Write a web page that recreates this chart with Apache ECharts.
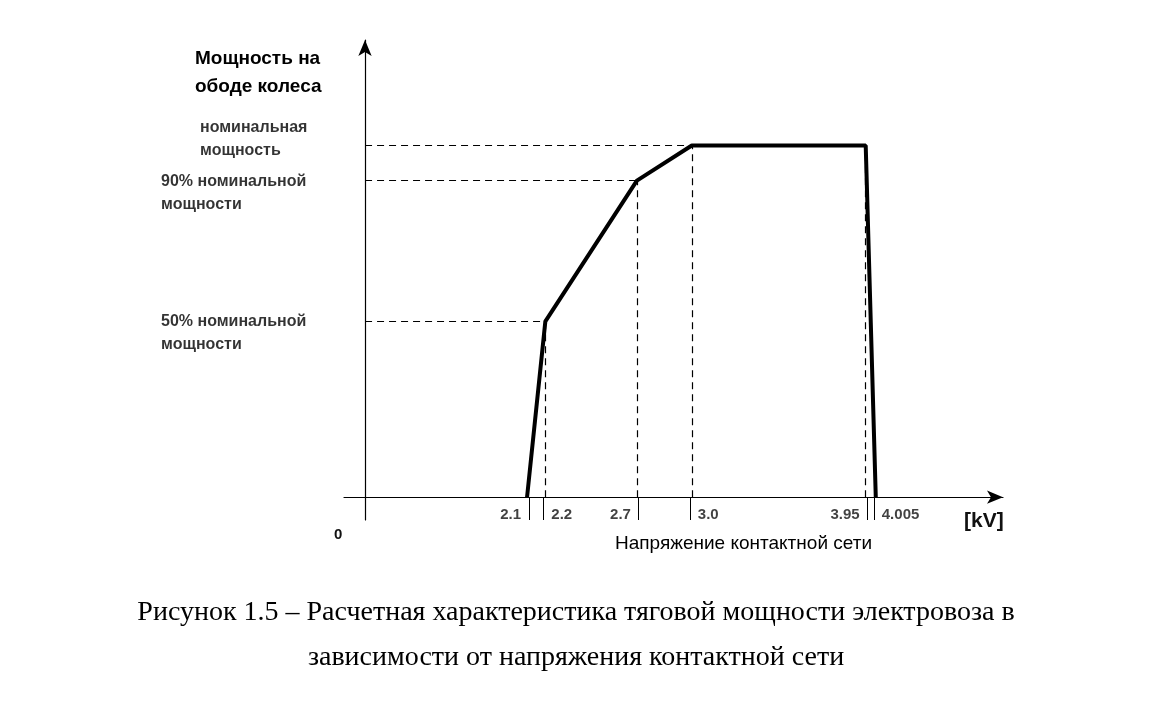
<!DOCTYPE html>
<html><head><meta charset="utf-8">
<script src="https://cdn.jsdelivr.net/npm/echarts@6/dist/echarts.min.js"></script>
<style>html,body{margin:0;background:#fff}#c{width:1153px;height:719px}</style></head>
<body><div id="c"></div>
<script>
const voltage = [2.1, 2.2, 2.7, 3.0, 3.95, 4.005];
const power = [0, 0.5, 0.9, 1.0, 1.0, 0];
const tickLabels = ['2.1', '2.2', '2.7', '3.0', '3.95', '4.005'];
const tickSide = ['left', 'right', 'left', 'right', 'left', 'right'];
const yLevels = [1.0, 0.9, 0.5];
const yLabels = ['номинальная\nмощность', '90% номинальной\nмощности', '50% номинальной\nмощности'];
const yAxisX = 1.215;

const chart = echarts.init(document.getElementById('c'));
const dashed = {color: '#000', type: [7, 5], width: 1.2};
const mlData = [];
yLevels.forEach((v, i) => {
  const idx = power.indexOf(v);
  mlData.push([{coord: [yAxisX, v], lineStyle: dashed}, {coord: [voltage[idx], v]}]);
});
mlData.push([{coord: [3.0, 1.0], lineStyle: dashed}, {coord: [3.95, 1.0]}]);
[1, 2, 3, 4].forEach(i => {
  mlData.push([{coord: [voltage[i], 0], lineStyle: dashed}, {coord: [voltage[i], power[i]]}]);
});
voltage.forEach((x, i) => {
  const xx = i % 2 === 0 ? x + 0.01 : x - 0.01;
  mlData.push([{coord: [xx, 0], lineStyle: {color: '#000', type: 'solid', width: 1}}, {coord: [xx, -0.065]}]);
});

chart.setOption({
  animation: false,
  grid: {left: 344, right: 150, top: 40, bottom: 199},
  xAxis: {type: 'value', min: 1.1, max: 4.7,
    axisLine: {onZero: true, lineStyle: {color: '#000', width: 1.2}, symbol: ['none', 'arrow'], symbolSize: [10, 16]},
    axisTick: {show: false}, axisLabel: {show: false}, splitLine: {show: false}},
  yAxis: {type: 'value', min: -0.065, max: 1.3, offset: -21,
    axisLine: {show: true, lineStyle: {color: '#000', width: 1.2}, symbol: ['none', 'arrow'], symbolSize: [10, 16]},
    axisTick: {show: false}, axisLabel: {show: false}, splitLine: {show: false}},
  series: [
    {type: 'line', data: voltage.map((x, i) => [x, power[i]]), symbol: 'none',
      lineStyle: {color: '#000', width: 4}, z: 5,
      markLine: {silent: true, symbol: 'none', label: {show: false}, data: mlData}},
    {type: 'scatter', symbolSize: 0,
      data: voltage.map((x, i) => ({value: [x, -0.05],
        label: {show: true, formatter: tickLabels[i], position: tickSide[i], distance: 6,
          fontFamily: 'Liberation Sans', fontWeight: 'bold', fontSize: 15, color: '#111'}}))},
    {type: 'scatter', symbolSize: 0,
      data: yLevels.map((v, i) => ({value: [yAxisX, v],
        label: {show: true, formatter: yLabels[i], position: 'left', distance: 14, align: 'left',
          offset: [-190 + (i === 0 ? 39 : 0), i === 0 ? -6 : 12], lineHeight: 23,
          fontFamily: 'Liberation Sans', fontWeight: 'bold', fontSize: 16, color: '#000'}}))}
  ],
  graphic: [
    {type: 'text', left: 195, top: 45, style: {text: 'Мощность на\nободе колеса', font: 'bold 19px "Liberation Sans"', lineHeight: 28, fill: '#000'}},
    {type: 'text', left: 334, top: 527, style: {text: '0', font: 'bold 15px "Liberation Sans"', fill: '#111'}},
    {type: 'text', left: 964, top: 511, style: {text: '[kV]', font: 'bold 21px "Liberation Sans"', fill: '#111'}},
    {type: 'text', left: 615, top: 534, style: {text: 'Напряжение контактной сети', font: '19px "Liberation Sans"', fill: '#000'}},
    {type: 'text', x: 576, y: 590, style: {text: 'Рисунок 1.5 – Расчетная характеристика тяговой мощности электровоза в\nзависимости от напряжения контактной сети', font: '28px "Liberation Serif"', lineHeight: 45, align: 'center', fill: '#000'}}
  ]
});
</script></body></html>
